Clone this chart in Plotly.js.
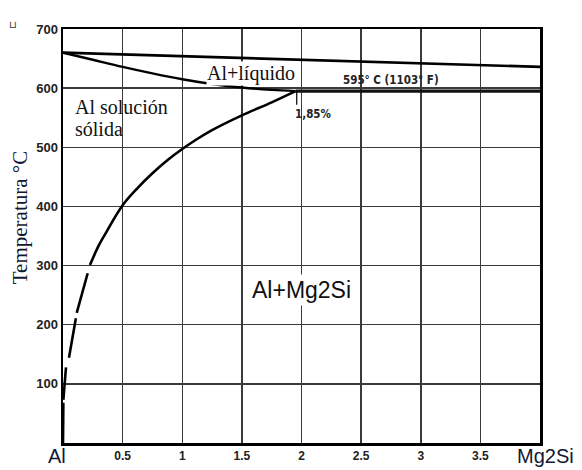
<!DOCTYPE html>
<html>
<head>
<meta charset="utf-8">
<script src="https://cdn.plot.ly/plotly-3.0.1.min.js"></script>
<style>html,body{margin:0;padding:0;background:#fff;}</style>
</head>
<body>
<div id="chart" style="width:582px;height:470px;"></div>
<script>
// Upper liquid line (Mg2Si side)
const upperX = [0, 1, 2, 3, 4];
const upperT = [660, 654, 647, 641, 636];
// Liquidus from Al to eutectic point
const liqX = [0, 0.25, 0.5, 0.75, 1.0, 1.25, 1.5, 1.75, 1.95];
const liqT = [660, 648, 636, 625, 615, 607, 601, 597, 595];
// Eutectic horizontal
const eutX = [1.95, 4];
const eutT = [595, 595];
// Solvus (solid part then dashed pieces, null = gap)
const solX = [1.95, 1.75, 1.5, 1.25, 1.125, 1.0, 0.875, 0.75, 0.625, 0.5, 0.35, 0.3, 0.226,
              null, 0.207, 0.115,
              null, 0.108, 0.05,
              null, 0.025, 0.003,
              null, 0.003, 0];
const solT = [595, 576, 554, 529, 514, 497, 478, 456, 431, 402, 352, 334, 301,
              null, 287, 220,
              null, 211, 144,
              null, 128, 73,
              null, 68, 0];
// Small marker at eutectic composition
const markX = [1.96, 1.96];
const markT = [595, 572];
// Axis ticks
const xTicks = [0.5, 1, 1.5, 2, 2.5, 3, 3.5];
const xTickText = ['0.5', '1', '1.5', '2', '2.5', '3', '3.5'];
const yTicks = [100, 200, 300, 400, 500, 600, 700];
const yTickText = ['100', '200', '300', '400', '500', '600', '700'];

const traces = [
  {x: upperX, y: upperT, mode: 'lines', line: {color: '#000', width: 2.6}},
  {x: liqX, y: liqT, mode: 'lines', line: {color: '#000', width: 2.4, shape: 'spline'}},
  {x: eutX, y: eutT, mode: 'lines', line: {color: '#111', width: 3.4}},
  {x: solX, y: solT, mode: 'lines', connectgaps: false, line: {color: '#000', width: 2.6, shape: 'spline'}},
  {x: markX, y: markT, mode: 'lines', line: {color: '#000', width: 1.2}}
];

const serif = 'Liberation Serif, Times New Roman, serif';
const sans = 'Liberation Sans, Arial, sans-serif';
const mono = 'DejaVu Sans Condensed, DejaVu Sans, sans-serif';
const layout = {
  width: 582, height: 470,
  margin: {l: 63, r: 42, t: 29, b: 27},
  showlegend: false,
  paper_bgcolor: '#fff', plot_bgcolor: '#fff',
  xaxis: {
    range: [0, 4], tickvals: xTicks, ticktext: xTickText,
    showgrid: true, gridcolor: '#3a3a3a', gridwidth: 1.5,
    zeroline: false, showline: true, linecolor: '#000', linewidth: 2.5, mirror: true,
    ticks: '', tickfont: {family: sans, size: 12, color: '#222', weight: 'bold'}
  },
  yaxis: {
    range: [0, 700], tickvals: yTicks, ticktext: yTickText,
    showgrid: true, gridcolor: '#3a3a3a', gridwidth: 1.5,
    zeroline: false, showline: true, linecolor: '#000', linewidth: 2.5, mirror: true,
    ticks: '', tickfont: {family: sans, size: 13, color: '#222', weight: 'bold'}
  },
  annotations: [
    {text: 'Al+líquido', x: 1.58, y: 624, xref: 'x', yref: 'y', showarrow: false,
     font: {family: serif, size: 20, color: '#111'}, bgcolor: '#fff', borderpad: 0},
    {text: '595° C (1103° F)', x: 2.75, y: 613, xref: 'x', yref: 'y', showarrow: false,
     font: {family: mono, size: 11.5, color: '#222', weight: 'bold'}},
    {text: '1,85%', x: 2.1, y: 557, xref: 'x', yref: 'y', showarrow: false,
     font: {family: mono, size: 11.5, color: '#222', weight: 'bold'}},
    {text: 'Al solución', x: 0.084, y: 568, xref: 'x', yref: 'y', showarrow: false,
     xanchor: 'left', font: {family: serif, size: 20, color: '#111'}},
    {text: 'sólida', x: 0.084, y: 531, xref: 'x', yref: 'y', showarrow: false,
     xanchor: 'left', font: {family: serif, size: 20, color: '#111'}},
    {text: 'Al+Mg2Si', x: 2.0, y: 259, xref: 'x', yref: 'y', showarrow: false,
     font: {family: sans, size: 23, color: '#111'}, bgcolor: '#fff', borderpad: 2},
    {text: 'Temperatura °C', x: -0.09, y: 0.543, xref: 'paper', yref: 'paper', showarrow: false,
     xanchor: 'center', yanchor: 'middle',
     textangle: -90, font: {family: serif, size: 21, color: '#111833'}},
    {text: 'Al', x: -0.0126, y: -0.063, xref: 'paper', yref: 'paper', showarrow: false,
     xanchor: 'center', yanchor: 'bottom',
     font: {family: sans, size: 20, color: '#111833'}},
    {text: 'Mg2Si', x: 1.0105, y: -0.063, xref: 'paper', yref: 'paper', showarrow: false,
     xanchor: 'center', yanchor: 'bottom',
     font: {family: sans, size: 20, color: '#111833'}},
    {text: '⊔', x: -0.105, y: 1.03, xref: 'paper', yref: 'paper', showarrow: false,
     xanchor: 'center', font: {family: sans, size: 10, color: '#333'}}
  ]
};
Plotly.newPlot('chart', traces, layout, {displayModeBar: false, staticPlot: true});
</script>
</body>
</html>
